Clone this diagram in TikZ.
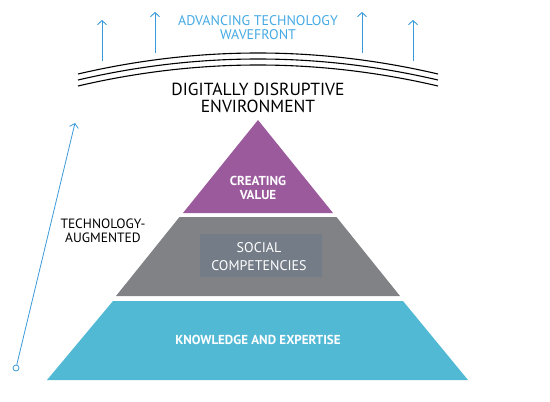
\documentclass[tikz,border=0pt]{standalone}
\usepackage{fontspec}
\setmainfont{PT Sans}
\usetikzlibrary{arrows.meta}
\definecolor{pcyan}{HTML}{52B9D5}
\definecolor{pgray}{HTML}{808285}
\definecolor{pbox}{HTML}{747C87}
\definecolor{ppurple}{HTML}{9B5A9C}
\definecolor{lblue}{HTML}{3A9AD9}
\definecolor{tblue}{HTML}{45AAE3}
\tikzset{
  uparrow/.style={draw=lblue, line width=0.9pt, -{Straight Barb[length=4pt,width=9pt]}},
  wave/.style={draw=black, line width=1.1pt},
  wlabel/.style={text=white, align=center, inner sep=0pt},
}
\begin{document}
\begin{tikzpicture}[x=1pt,y=-1pt]
\useasboundingbox (0,0) rectangle (550,402);
% pyramid
\fill[pcyan] (113,301) -- (403,301) -- (468,380) -- (47,380) -- cycle;
\fill[pgray] (179.5,217) -- (336.5,217) -- (400,296) -- (116,296) -- cycle;
\fill[ppurple] (258,120) -- (333,213) -- (183,213) -- cycle;
\fill[pbox] (200,234) rectangle (322,277);
\node[wlabel, font=\bfseries\fontsize{13}{14}\selectfont] (cv) at (258,188) {CREATING\\VALUE};
\node[wlabel, font=\fontsize{14}{18}\selectfont] (sc) at (259,257) {SOCIAL\\COMPETENCIES};
\node[wlabel, font=\bfseries\fontsize{13}{14}\selectfont] (ke) at (258,340) {KNOWLEDGE AND EXPERTISE};
% wavefront arcs
\draw[wave] (78,74) .. controls (198,46) and (318,46) .. (438,74);
\draw[wave] (78,80) .. controls (198,52) and (318,52) .. (438,80);
\draw[wave] (78,86) .. controls (198,58) and (318,58) .. (438,86);
\node[align=center, inner sep=0pt, font=\fontsize{17.5}{16.5}\selectfont] (dde) at (258,98) {DIGITALLY DISRUPTIVE\\ENVIRONMENT};
\node[align=center, inner sep=0pt, text=tblue, font=\fontsize{14}{14}\selectfont] (atw) at (258,28) {ADVANCING TECHNOLOGY\\WAVEFRONT};
% up arrows
\coordinate (a1s) at (102,61); \coordinate (a1e) at (102,20);
\coordinate (a2s) at (155,53); \coordinate (a2e) at (155,12);
\coordinate (a3s) at (362,53); \coordinate (a3e) at (362,12);
\coordinate (a4s) at (413,61); \coordinate (a4e) at (413,20);
\draw[uparrow] (a1s) -- (a1e);
\draw[uparrow] (a2s) -- (a2e);
\draw[uparrow] (a3s) -- (a3e);
\draw[uparrow] (a4s) -- (a4e);
% technology augmented arrow
\node[circle, draw=lblue, line width=0.8pt, minimum size=6pt, inner sep=0pt] (c0) at (16,368) {};
\coordinate (ltip) at (75,123);
\draw[uparrow, line width=0.8pt] (c0) -- (ltip);
\node[align=center, inner sep=0pt, font=\fontsize{13.5}{13.5}\selectfont] (ta) at (103,231) {TECHNOLOGY-\\AUGMENTED};
\end{tikzpicture}
\end{document}
